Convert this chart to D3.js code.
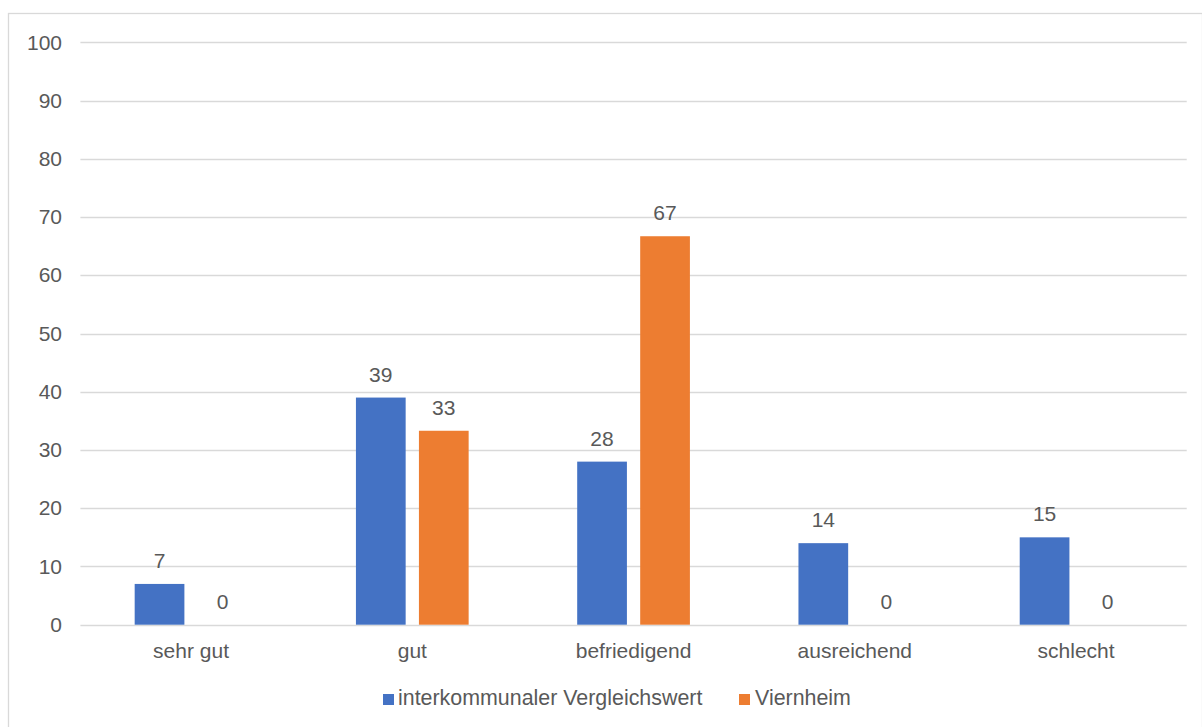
<!DOCTYPE html>
<html>
<head>
<meta charset="utf-8">
<script src="https://cdn.jsdelivr.net/npm/d3@7"></script>
<style>
  html, body { margin: 0; padding: 0; background: #fff; }
  svg { display: block; }
  text { font-family: "Liberation Sans", Arial, sans-serif; fill: #595959; }
</style>
</head>
<body>
<svg id="chart" width="1202" height="727"></svg>
<script>
// Ratings and percentages per series
const categories = ["sehr gut", "gut", "befriedigend", "ausreichend", "schlecht"];
const seriesNames = ["interkommunaler Vergleichswert", "Viernheim"];
const vergleichswert = [7, 39, 28, 14, 15];
const viernheim = [0, 33.3, 66.7, 0, 0];
const yTicks = [0, 10, 20, 30, 40, 50, 60, 70, 80, 90, 100];
const colors = ["#4472C4", "#ED7D31"];

const svg = d3.select("#chart");
const W = 1202, H = 727;
const FONT = '"Liberation Sans", Arial, sans-serif';

// outer chart frame
svg.append("rect")
  .attr("x", 8.5).attr("y", 13.5)
  .attr("width", W - 8).attr("height", H)
  .attr("fill", "#fff").attr("stroke", "#D9D9D9").attr("stroke-width", 1.3);

const plot = { left: 80.4, right: 1186.7, top: 42.3, bottom: 624.7 };

const x = d3.scaleBand().domain(categories).range([plot.left, plot.right]).padding(0);
const y = d3.scaleLinear().domain([0, 100]).range([plot.bottom, plot.top]);

// gridlines
svg.append("g").selectAll("line").data(yTicks).join("line")
  .attr("x1", plot.left).attr("x2", plot.right)
  .attr("y1", d => Math.round(y(d)) + 0.5).attr("y2", d => Math.round(y(d)) + 0.5)
  .attr("stroke", "#D9D9D9").attr("stroke-width", 1.3);

// y axis labels
const yAxis = d3.axisLeft(y).tickValues(yTicks).tickSize(0).tickPadding(0);
const yg = svg.append("g").attr("transform", "translate(62,0)").call(yAxis);
yg.select(".domain").remove();
yg.selectAll("text").attr("font-size", 21).attr("fill", "#595959").style("font-family", FONT);

// x axis labels
const xAxis = d3.axisBottom(x).tickSize(0).tickPadding(0);
const xg = svg.append("g").attr("transform", `translate(0,${plot.bottom + 18})`).call(xAxis);
xg.select(".domain").remove();
xg.selectAll("text").attr("font-size", 21).attr("fill", "#595959").style("font-family", FONT);

// clustered bars with value labels
const bw = x.bandwidth();
const barW = bw * 0.2247;
const gap = bw * 0.06;

const series = [vergleichswert, viernheim];
series.forEach((vals, si) => {
  const g = svg.append("g");
  const xi = i => x(categories[i]) + bw / 2 - (barW + gap / 2) + si * (barW + gap);
  g.selectAll("rect").data(vals).join("rect")
    .attr("x", (d, i) => xi(i))
    .attr("y", d => y(d))
    .attr("width", barW)
    .attr("height", d => plot.bottom - y(d))
    .attr("fill", colors[si]);
  g.selectAll("text").data(vals).join("text")
    .attr("x", (d, i) => xi(i) + barW / 2)
    .attr("y", d => y(d) - 16)
    .attr("text-anchor", "middle")
    .attr("font-size", 21)
    .text(d => d3.format(".0f")(d));
});

// legend
const legend = svg.append("g");
const legendItems = [{ x: 383, tx: 398 }, { x: 739, tx: 755 }];
seriesNames.forEach((name, i) => {
  legend.append("rect")
    .attr("x", legendItems[i].x).attr("y", 694)
    .attr("width", 11).attr("height", 11)
    .attr("fill", colors[i]);
  legend.append("text")
    .attr("x", legendItems[i].tx).attr("y", 705)
    .attr("font-size", 21.4)
    .text(name);
});
</script>
</body>
</html>
